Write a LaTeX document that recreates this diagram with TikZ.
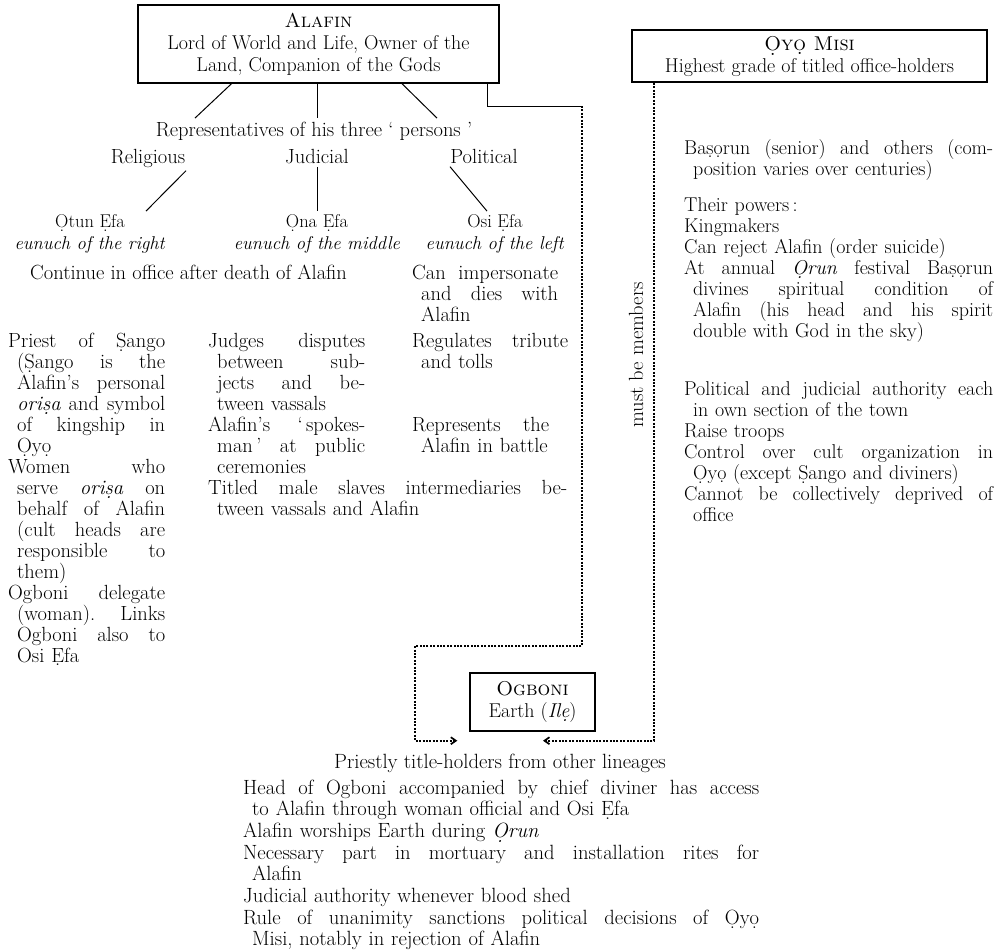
\documentclass[tikz,border=0pt]{standalone}
\usepackage{tikz}
\usetikzlibrary{positioning,arrows.meta}

% letter with a dot below (Yoruba)
\newcommand{\udot}[1]{\oalign{#1\crcr\hidewidth\vbox to.2ex{\hbox{.}\vss}\hidewidth}}
\newcommand{\boxfont}{\fontsize{20}{22}\selectfont}
\newcommand{\namefont}{\fontsize{18.5}{22}\selectfont}
\newcommand{\colfont}{\fontsize{20.5}{21}\selectfont}
\newcommand{\rightfont}{\fontsize{20}{21}\selectfont}
\newcommand{\footfont}{\fontsize{20.6}{21.7}\selectfont}
% justified lines with a hanging indent
\newlength{\colw}
\newlength{\hangw}\setlength{\hangw}{9pt}
\newcommand{\jl}[1]{\leavevmode\hbox to\colw{\spaceskip=0pt\xspaceskip=0pt #1}}
\newcommand{\ji}[1]{\leavevmode\hspace*{\hangw}\hbox to\dimexpr\colw-\hangw\relax{\spaceskip=0pt\xspaceskip=0pt #1}}
\newcommand{\il}[1]{\leavevmode\hspace*{\hangw}#1}

\tikzset{
  chartbox/.style={draw, line width=1.4pt, align=center, inner sep=0pt, font=\boxfont},
  entry/.style={anchor=base west, inner sep=0pt, align=left},
  column/.style={entry, text width=#1, /utils/exec={\setlength{\colw}{#1}}},
  eunuch/.style={align=center, font=\namefont},
  link/.style={line width=1pt},
  members/.style={line width=1.7pt, dash pattern=on 2pt off 1.4pt},
  arrowend/.style={-{Straight Barb[length=5pt, width=7pt]}},
}

\begin{document}
\begin{tikzpicture}[x=1pt, y=-1pt, font=\colfont]
  \useasboundingbox (0,0) rectangle (1004,951);

  % the three boxes
  \node[chartbox, minimum width=361pt, minimum height=78pt] (alafin) at (318.5,44)
    {\textsc{Alafin}\\Lord of World and Life, Owner of the\\Land, Companion of the Gods};
  \node[chartbox, minimum width=355pt, minimum height=52pt] (oyomisi) at (809.5,56)
    {\textsc{\udot{O}y\udot{o} Misi}\\Highest grade of titled office-holders};
  \node[chartbox, minimum width=125pt, minimum height=58pt] (ogboni) at (532.5,702)
    {\textsc{Ogboni}\\Earth (\emph{Il\udot{e}})};

  % three persons
  \node[anchor=base] (reps) at (314,136) {Representatives of his three ` persons '};
  \node[anchor=base] (religious) at (148,163) {Religious};
  \node[anchor=base] (judicial) at (317,163) {Judicial};
  \node[anchor=base] (political) at (484,163) {Political};
  \node[eunuch] (otun) at (90,234) {\udot{O}tun \udot{E}fa\\\emph{eunuch of the right}};
  \node[eunuch] (ona) at (317,234) {\udot{O}na \udot{E}fa\\\emph{eunuch of the middle}};
  \node[eunuch] (osi) at (495,234) {Osi \udot{E}fa\\\emph{eunuch of the left}};

  \draw[link] ([xshift=-87pt]alafin.south) -- ([xshift=-119pt]reps.north);
  \draw[link] ([xshift=-1.5pt]alafin.south) -- ([xshift=3pt]reps.north);
  \draw[link] ([xshift=83.5pt]alafin.south) -- ([xshift=123pt]reps.north);
  \draw[link] ([xshift=38pt]religious.south) -- ([xshift=56pt]otun.north);
  \draw[link] (judicial.south) -- (ona.north);
  \draw[link] ([xshift=-34pt]political.south) -- ([xshift=-8pt]osi.north);

  \node[entry] (continue) at (30,279) {Continue in office after death of Alafin};
  \node[column=146pt] (impersonate) at (412,279)
    {\jl{Can impersonate}\\\ji{and dies with}\\\il{Alafin}};

  % duties of the three eunuchs
  \node[column=157pt] (sango) at (8,347)
    {\jl{Priest of \udot{S}ango}\\\ji{(\udot{S}ango is the}\\\ji{Alafin's personal}\\
     \ji{\emph{ori\udot{s}a} and symbol}\\\ji{of kingship in}\\\il{\udot{O}y\udot{o}}\\
     \jl{Women who}\\\ji{serve \emph{ori\udot{s}a} on}\\\ji{behalf of Alafin}\\
     \ji{(cult heads are}\\\ji{responsible to}\\\il{them)}\\
     \jl{Ogboni delegate}\\\ji{(woman). Links}\\\ji{Ogboni also to}\\\il{Osi \udot{E}fa}};
  \node[column=157pt] (judges) at (208,347)
    {\jl{Judges disputes}\\\ji{between sub-}\\\ji{jects and be-}\\\il{tween vassals}\\
     \jl{Alafin's `\,spokes-}\\\ji{man\,' at public}\\\il{ceremonies}};
  \node[column=359pt] (slaves) at (208,494)
    {\jl{Titled male slaves intermediaries be-}\\\il{tween vassals and Alafin}};
  \node[column=156pt] (tribute) at (412,347)
    {\jl{Regulates tribute}\\\il{and tolls}};
  \node[column=137pt] (battle) at (412,431)
    {\jl{Represents the}\\\il{Alafin in battle}};

  % Oyo Misi
  \node[column=309pt, font=\rightfont] (basorun) at (684,154)
    {\jl{Ba\udot{s}\udot{o}run (senior) and others (com-}\\\il{position varies over centuries)}};
  \node[column=309pt, font=\rightfont] (powers) at (684,211)
    {Their powers\,:\\Kingmakers\\Can reject Alafin (order suicide)\\
     \jl{At annual \emph{\udot{O}run} festival Ba\udot{s}\udot{o}run}\\\ji{divines spiritual condition of}\\
     \ji{Alafin (his head and his spirit}\\\il{double with God in the sky)}};
  \node[column=309pt, font=\rightfont] (authority) at (684,395)
    {\jl{Political and judicial authority each}\\\il{in own section of the town}\\Raise troops\\
     \jl{Control over cult organization in}\\\il{\udot{O}y\udot{o} (except \udot{S}ango and diviners)}\\
     \jl{Cannot be collectively deprived of}\\\il{office}};
  \node[rotate=90] (must) at (636,355) {must be members};

  % Ogboni
  \node[anchor=base, font=\footfont] (priestly) at (500,768) {Priestly title-holders from other lineages};
  \node[column=516pt, font=\footfont] (earth) at (243,794)
    {\jl{Head of Ogboni accompanied by chief diviner has access}\\
     \il{to Alafin through woman official and Osi \udot{E}fa}\\
     Alafin worships Earth during \emph{\udot{O}run}\\
     \jl{Necessary part in mortuary and installation rites for}\\\il{Alafin}\\
     Judicial authority whenever blood shed\\
     \jl{Rule of unanimity sanctions political decisions of \udot{O}y\udot{o}}\\
     \il{Misi, notably in rejection of Alafin}};

  % links to Ogboni
  \coordinate (ajoin) at (582,106);
  \coordinate (alow) at (415,646);
  \coordinate (aend) at ([shift={(-12pt,-9pt)}]ogboni.south west);
  \coordinate (mend) at ([shift={(10.5pt,-9pt)}]ogboni.south);
  \draw[link] ([xshift=168.5pt]alafin.south) |- (ajoin);
  \draw[members, arrowend] (ajoin) |- (alow) |- (aend);
  \draw[members, arrowend] ([xshift=-155.5pt]oyomisi.south) |- (mend);
\end{tikzpicture}
\end{document}
